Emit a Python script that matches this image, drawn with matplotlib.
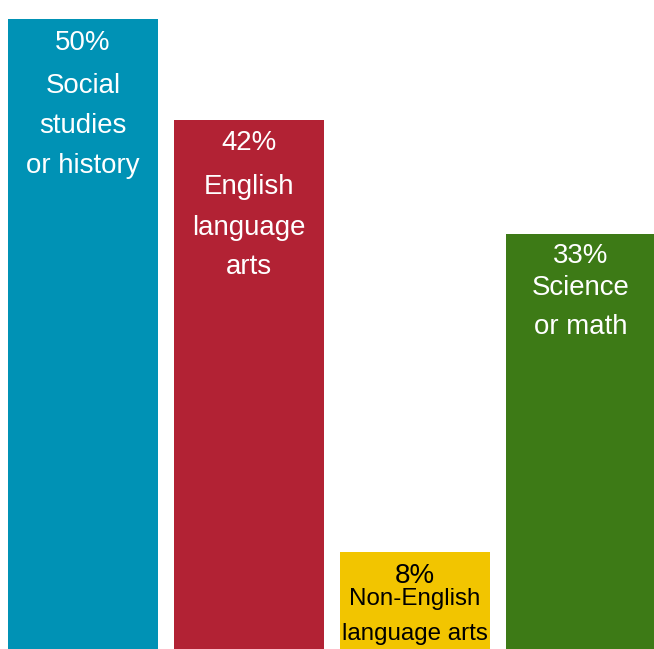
import matplotlib.pyplot as plt

plt.rcParams['font.family'] = ['Liberation Sans', 'DejaVu Sans']

subjects = ['Social studies or history', 'English language arts',
            'Non-English language arts', 'Science or math']
percents = [50, 42, 7.7, 32.9]
label_lines = [['Social', 'studies', 'or history'],
               ['English', 'language', 'arts'],
               ['Non-English', 'language arts'],
               ['Science', 'or math']]
colors = ['#0092B5', '#B22234', '#F2C500', '#3D7A16']
text_colors = ['white', 'white', 'black', 'white']

# pixel offsets below bar top for each text line (pct first, then label lines)
offsets = [[-24, -67, -107, -147],
           [-23, -67, -108, -147],
           [-24, -47, -82],
           [-22, -54, -93]]
label_sizes = [19.9, 19.9, 17.4, 19.9]

fig = plt.figure(figsize=(6.54, 6.49), dpi=100)
ax = fig.add_axes([0, 0, 1, 1])
x = list(range(len(percents)))
ax.bar(x, percents, width=150 / 166, color=colors)
ax.set_xlim(-0.5, 3.44)
ax.set_ylim(0, 50 * 649 / 630)
ax.axis('off')

for i, p in enumerate(percents):
    offs = offsets[i]
    ax.annotate(f'{round(p)}%', (i, p), xytext=(0, offs[0]), textcoords='offset pixels',
                ha='center', va='center', fontsize=19.9, color=text_colors[i])
    for line, off in zip(label_lines[i], offs[1:]):
        ax.annotate(line, (i, p), xytext=(0, off), textcoords='offset pixels',
                    ha='center', va='center', fontsize=label_sizes[i],
                    color=text_colors[i])

fig.savefig('out.png', dpi=100)
